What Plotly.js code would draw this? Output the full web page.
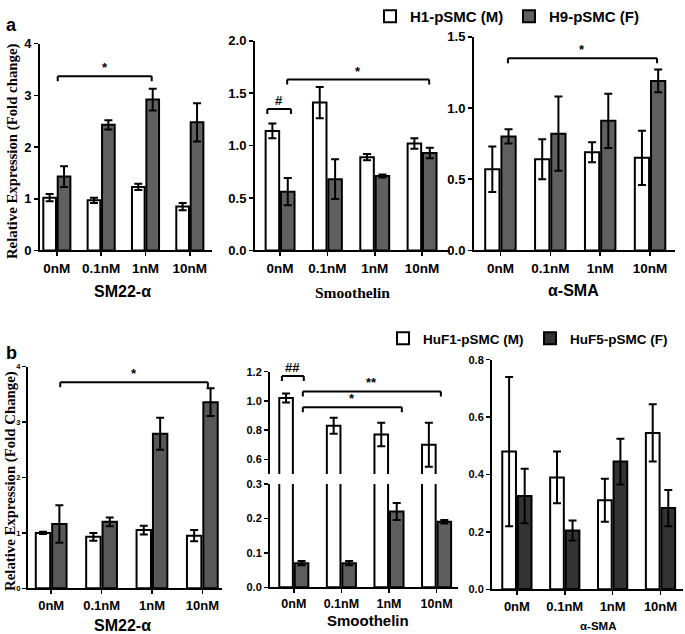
<!DOCTYPE html>
<html><head><meta charset="utf-8">
<script src="https://cdn.plot.ly/plotly-3.0.1.min.js"></script>
<style>html,body{margin:0;padding:0;background:#fff}</style>
</head><body><div id="chart" style="width:685px;height:634px"></div>
<script>
// ---------- data ----------
const doses = ['0nM', '0.1nM', '1nM', '10nM'];

// panel a : H1-pSMC (M) vs H9-pSMC (F)
const aSM22_H1 = [1.02, 0.97, 1.23, 0.85];
const aSM22_H1_err = [0.07, 0.05, 0.06, 0.07];
const aSM22_H9 = [1.43, 2.43, 2.92, 2.48];
const aSM22_H9_err = [0.20, 0.09, 0.21, 0.37];

const aSmooth_H1 = [1.14, 1.41, 0.89, 1.02];
const aSmooth_H1_err = [0.07, 0.15, 0.03, 0.05];
const aSmooth_H9 = [0.56, 0.68, 0.71, 0.93];
const aSmooth_H9_err = [0.13, 0.19, 0.015, 0.05];

const aSMA_H1 = [0.57, 0.64, 0.69, 0.65];
const aSMA_H1_err = [0.16, 0.14, 0.07, 0.19];
const aSMA_H9 = [0.80, 0.82, 0.91, 1.19];
const aSMA_H9_err = [0.05, 0.26, 0.19, 0.08];

// panel b : HuF1-pSMC (M) vs HuF5-pSMC (F)
const bSM22_F1 = [1.00, 0.93, 1.05, 0.95];
const bSM22_F1_err = [0.02, 0.07, 0.08, 0.10];
const bSM22_F5 = [1.16, 1.20, 2.79, 3.36];
const bSM22_F5_err = [0.34, 0.08, 0.29, 0.25];

const bSmooth_F1 = [1.02, 0.83, 0.77, 0.70];
const bSmooth_F1_err = [0.03, 0.055, 0.08, 0.15];
const bSmooth_F5 = [0.07, 0.07, 0.22, 0.19];
const bSmooth_F5_err = [0.006, 0.006, 0.025, 0.005];

const bSMA_F1 = [0.48, 0.39, 0.31, 0.545];
const bSMA_F1_err = [0.26, 0.09, 0.075, 0.10];
const bSMA_F5 = [0.325, 0.205, 0.445, 0.283];
const bSMA_F5_err = [0.095, 0.035, 0.08, 0.063];

const seriesA = ['H1-pSMC (M)', 'H9-pSMC (F)'];
const seriesB = ['HuF1-pSMC (M)', 'HuF5-pSMC (F)'];
const genes = ['SM22-α', 'Smoothelin', 'α-SMA'];

// ---------- helpers ----------
const W = 685, H = 634;
const dx = (a, b) => [a / W, b / W];
const dy = (top, bottom) => [1 - bottom / H, 1 - top / H];
const px = v => v / W;
const py = v => 1 - v / H;

function bar(xa, ya, vals, errs, color, name, showlegend, legend) {
  const t = {
    type: 'bar', x: doses, y: vals, name: name, xaxis: xa, yaxis: ya,
    marker: {color: color, line: {color: '#000', width: 2}},
    showlegend: !!showlegend, legendgroup: name, hoverinfo: 'skip'
  };
  if (legend) t.legend = legend;
  if (errs) t.error_y = {type: 'data', array: errs, visible: true, color: '#000', thickness: 2, width: 4};
  return t;
}

const WHITE = '#ffffff';
const traces = [
  bar('x', 'y', aSM22_H1, aSM22_H1_err, WHITE, seriesA[0], true, 'legend'),
  bar('x', 'y', aSM22_H9, aSM22_H9_err, '#606060', seriesA[1], true, 'legend'),
  bar('x2', 'y2', aSmooth_H1, aSmooth_H1_err, WHITE, seriesA[0]),
  bar('x2', 'y2', aSmooth_H9, aSmooth_H9_err, '#606060', seriesA[1]),
  bar('x3', 'y3', aSMA_H1, aSMA_H1_err, WHITE, seriesA[0]),
  bar('x3', 'y3', aSMA_H9, aSMA_H9_err, '#606060', seriesA[1]),
  bar('x4', 'y4', bSM22_F1, bSM22_F1_err, WHITE, seriesB[0]),
  bar('x4', 'y4', bSM22_F5, bSM22_F5_err, '#585858', seriesB[1]),
  // broken axis: lower segment
  bar('x5', 'y5', bSmooth_F1, null, WHITE, seriesB[0]),
  bar('x5', 'y5', bSmooth_F5, bSmooth_F5_err, '#5e5e5e', seriesB[1]),
  // broken axis: upper segment (only the tall white bars reach it)
  bar('x5', 'y7', bSmooth_F1, bSmooth_F1_err, WHITE, seriesB[0]),
  bar('x5', 'y7', bSmooth_F5.map(() => null), null, '#5e5e5e', seriesB[1]),
  bar('x6', 'y6', bSMA_F1, bSMA_F1_err, WHITE, seriesB[0], true, 'legend2'),
  bar('x6', 'y6', bSMA_F5, bSMA_F5_err, '#333333', seriesB[1], true, 'legend2')
];

const SANS = 'Liberation Sans, Arial';
const SERIF = 'Liberation Serif, Times New Roman';
function xax(dom, range, anchor, fs) {
  return {domain: dom, anchor: anchor, type: 'category', range: range,
    showline: true, linecolor: '#000', linewidth: 2, mirror: false,
    ticks: 'outside', ticklen: 4, tickwidth: 1.5, tickcolor: '#000',
    tickfont: {family: SANS, size: fs, weight: 'bold', color: '#000'},
    showgrid: false, zeroline: false, fixedrange: true};
}
function yax(dom, range, anchor, fs, extra) {
  return Object.assign({domain: dom, anchor: anchor, range: range,
    showline: true, linecolor: '#000', linewidth: 2,
    ticks: 'outside', ticklen: 4, tickwidth: 1.5, tickcolor: '#000',
    tickfont: {family: SANS, size: fs, weight: 'bold', color: '#000'},
    showgrid: false, zeroline: false, fixedrange: true}, extra || {});
}

const shapes = [];
const annotations = [];
function bracket(xa, ya, x0, x1, y, label, drop) {
  const d = drop || 5;
  const base = {type: 'line', xref: xa, yref: ya, line: {color: '#000', width: 2}};
  shapes.push(Object.assign({}, base, {x0: x0, x1: x1, y0: y, y1: y}));
  shapes.push(Object.assign({}, base, {x0: x0, x1: x0, ysizemode: 'pixel', yanchor: y, y0: 0, y1: -d}));
  shapes.push(Object.assign({}, base, {x0: x1, x1: x1, ysizemode: 'pixel', yanchor: y, y0: 0, y1: -d}));
  annotations.push({xref: xa, yref: ya, x: (x0 + x1) / 2, y: y, text: label, showarrow: false,
    yanchor: 'bottom', yshift: -1, font: {family: SANS, size: 13, weight: 'bold', color: '#000'}});
}
bracket('x', 'y', 0.02, 2.14, 3.37, '*');
bracket('x2', 'y2', -0.27, 0.23, 1.35, '#');
bracket('x2', 'y2', 0.15, 3.15, 1.63, '*');
bracket('x3', 'y3', 0.15, 3.14, 1.35, '*');
bracket('x4', 'y4', 0.18, 3.11, 3.72, '*');
bracket('x5', 'y7', -0.25, 0.21, 1.17, '##');
bracket('x5', 'y7', 0.19, 3.09, 1.065, '**');
bracket('x5', 'y7', 0.19, 2.27, 0.956, '*');

function txt(text, x, y, size, family, angle) {
  annotations.push({xref: 'paper', yref: 'paper', x: px(x), y: py(y), text: text, showarrow: false,
    xanchor: 'center', yanchor: 'middle', textangle: angle || 0,
    font: {family: family, size: size, weight: 'bold', color: '#000'}});
}
txt('a', 11, 21, 18, SANS);
txt('b', 11, 351, 18, SANS);
txt('Relative Expression (Fold change)', 12, 148, 14.8, SERIF, -90);
txt('Relative Expression (Fold Change)', 11, 480, 14.8, SERIF, -90);
txt(genes[0], 122, 289, 16, SANS);
txt(genes[1], 352, 290, 15.5, SERIF);
txt(genes[2], 573, 288, 16, SANS);
txt(genes[0], 122, 625, 16, SANS);
txt(genes[1], 368, 620, 15, SANS);
txt(genes[2], 598, 626, 11.5, SANS);

const layout = {
  width: W, height: H, margin: {l: 0, r: 0, t: 0, b: 0},
  paper_bgcolor: '#fff', plot_bgcolor: 'rgba(0,0,0,0)',
  barmode: 'group', bargap: 0.35, bargroupgap: 0.12,
  xaxis: xax(dx(40, 212), [-0.38, 3.5], 'y', 13.5),
  yaxis: yax(dy(40, 248), [0, 4], 'x', 13, {dtick: 1}),
  xaxis2: xax(dx(255, 450), [-0.53, 3.59], 'y2', 13.5),
  yaxis2: yax(dy(37, 248), [0, 2], 'x2', 13, {dtick: 0.5, tickformat: '.1f'}),
  xaxis3: xax(dx(474, 675), [-0.53, 3.5], 'y3', 13.5),
  yaxis3: yax(dy(33, 248), [0, 1.5], 'x3', 13, {dtick: 0.5, tickformat: '.1f'}),
  xaxis4: xax(dx(28, 222), [-0.46, 3.39], 'y4', 13),
  yaxis4: yax(dy(365, 588), [0, 4], 'x4', 7.5, {dtick: 1}),
  xaxis5: xax(dx(270, 458), [-0.5, 3.45], 'y5', 12.5),
  yaxis5: yax(dy(483, 587), [0, 0.3], 'x5', 11, {dtick: 0.1, tickformat: '.1f'}),
  yaxis7: yax(dy(370, 473), [0.5, 1.2], 'x5', 11, {tickvals: [0.6, 0.8, 1.0, 1.2], tickformat: '.1f'}),
  xaxis6: xax(dx(492, 683), [-0.52, 3.47], 'y6', 13),
  yaxis6: yax(dy(358, 589), [0, 0.8], 'x6', 11, {dtick: 0.2, tickformat: '.1f'}),
  legend: {orientation: 'h', x: px(370), y: py(-4), xanchor: 'left', yanchor: 'top',
    font: {family: SANS, size: 15, weight: 'bold', color: '#000'}, bgcolor: 'rgba(0,0,0,0)',
    traceorder: 'normal', entrywidth: 94},
  legend2: {orientation: 'h', x: px(383), y: py(321), xanchor: 'left', yanchor: 'top',
    font: {family: SANS, size: 13.5, weight: 'bold', color: '#000'}, bgcolor: 'rgba(0,0,0,0)',
    traceorder: 'normal', entrywidth: 102},
  shapes: shapes, annotations: annotations
};

Plotly.newPlot('chart', traces, layout, {staticPlot: true, displayModeBar: false});
</script>
</body></html>
